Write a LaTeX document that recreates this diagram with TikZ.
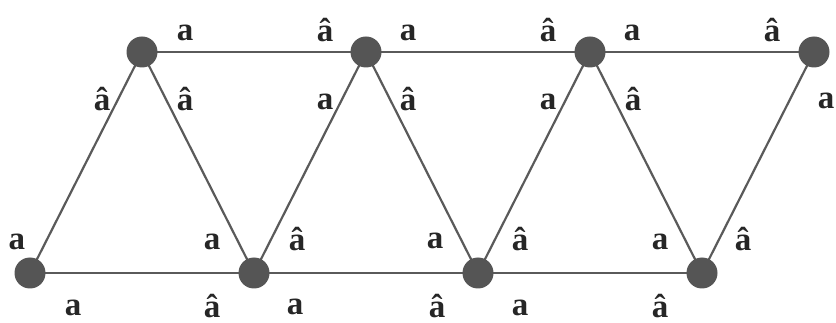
\documentclass[tikz,border=0pt]{standalone}
\usepackage{fontspec}
\setmainfont{Liberation Serif}
\begin{document}
\begin{tikzpicture}[x=1pt,y=-1pt,
  vtx/.style={circle,fill=vgray,draw=none,minimum size=30pt,inner sep=0pt},
  edge/.style={draw=egray,line width=2.2pt},
  lab/.style={anchor=base,inner sep=0pt,font=\fontsize{33}{33}\selectfont\bfseries,text=black!85}]
\definecolor{vgray}{RGB}{85,85,85}
\definecolor{egray}{RGB}{90,90,90}
\useasboundingbox (0,0) rectangle (836,323);
% vertices
\node[vtx] (t1) at (142,52) {};
\node[vtx] (t2) at (366,52) {};
\node[vtx] (t3) at (590,52) {};
\node[vtx] (t4) at (814,52) {};
\node[vtx] (b1) at (30,273) {};
\node[vtx] (b2) at (254,273) {};
\node[vtx] (b3) at (478,273) {};
\node[vtx] (b4) at (702,273) {};
% edges
\draw[edge] (t1.center) -- (t2.center) -- (t3.center) -- (t4.center);
\draw[edge] (b1.center) -- (b2.center) -- (b3.center) -- (b4.center);
\draw[edge] (b1.center) -- (t1.center) -- (b2.center) -- (t2.center) -- (b3.center) -- (t3.center) -- (b4.center) -- (t4.center);
% redraw vertices on top
\foreach \n in {t1,t2,t3,t4,b1,b2,b3,b4} {\fill[vgray] (\n) circle (15.5pt);}
% top row labels
\node[lab] (l1) at (185,41) {a};
\node[lab] (l2) at (325,42) {â};
\node[lab] (l3) at (408,41) {a};
\node[lab] (l4) at (548,42) {â};
\node[lab] (l5) at (632,41) {a};
\node[lab] (l6) at (772,42) {â};
% second row labels
\node[lab] (l7) at (102,111) {â};
\node[lab] (l8) at (185,111) {â};
\node[lab] (l9) at (325,110) {a};
\node[lab] (l10) at (408,111) {â};
\node[lab] (l11) at (548,110) {a};
\node[lab] (l12) at (633,111) {â};
\node[lab] (l13) at (826,109) {a};
% bottom upper labels
\node[lab] (l14) at (17,250) {a};
\node[lab] (l15) at (212,250) {a};
\node[lab] (l16) at (297,251) {â};
\node[lab] (l17) at (435,249) {a};
\node[lab] (l18) at (520,251) {â};
\node[lab] (l19) at (660,250) {a};
\node[lab] (l20) at (743,251) {â};
% bottom lower labels
\node[lab] (l21) at (73,316) {a};
\node[lab] (l22) at (212,317) {â};
\node[lab] (l23) at (295,315) {a};
\node[lab] (l24) at (437,317) {â};
\node[lab] (l25) at (520,316) {a};
\node[lab] (l26) at (660,317) {â};
\end{tikzpicture}
\end{document}
